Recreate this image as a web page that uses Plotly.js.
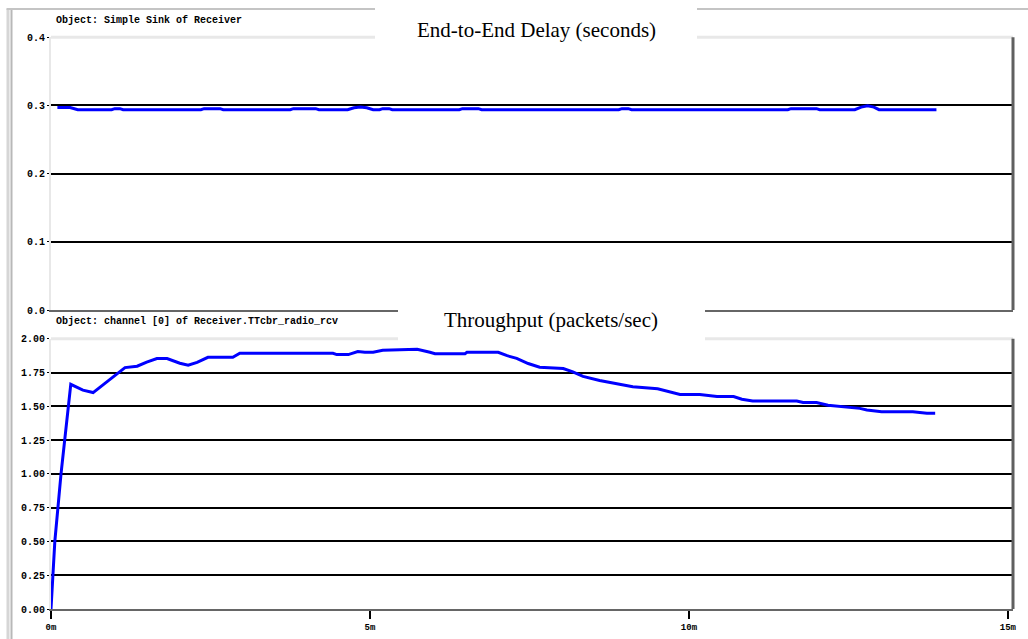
<!DOCTYPE html>
<html>
<head>
<meta charset="utf-8">
<script src="https://cdn.plot.ly/plotly-3.0.1.min.js"></script>
<style>
html,body{margin:0;padding:0;background:#fff;}
#chart{width:1028px;height:639px;}
</style>
</head>
<body>
<div id="chart"></div>
<script>
// ---- data (time in minutes) ----
var delayTime = [0.1, 0.3, 0.42, 0.95, 1.0, 1.08, 1.13, 2.35, 2.4, 2.65, 2.7, 3.75, 3.8, 4.15, 4.2, 4.65, 4.75, 4.85, 4.95, 5.05, 5.15, 5.2, 5.3, 5.35, 6.4, 6.45, 6.7, 6.75, 8.9, 8.95, 9.05, 9.1, 11.55, 11.6, 12.0, 12.05, 12.6, 12.7, 12.8, 12.9, 12.98, 13.88];
var delayValue = [0.297, 0.297, 0.2937, 0.2937, 0.2952, 0.2952, 0.2937, 0.2937, 0.2952, 0.2952, 0.2937, 0.2937, 0.2952, 0.2952, 0.2937, 0.2937, 0.2965, 0.2975, 0.2965, 0.2937, 0.2937, 0.2952, 0.2952, 0.2937, 0.2937, 0.2952, 0.2952, 0.2937, 0.2937, 0.2952, 0.2952, 0.2937, 0.2937, 0.2952, 0.2952, 0.2937, 0.2937, 0.2975, 0.2995, 0.2975, 0.2937, 0.2937];

var thrTime = [0, 0.06, 0.157, 0.28, 0.31, 0.5, 0.66, 0.9, 1.16, 1.35, 1.5, 1.66, 1.82, 2.02, 2.15, 2.29, 2.46, 2.85, 2.96, 4.42, 4.48, 4.66, 4.81, 4.92, 5.05, 5.2, 5.74, 5.94, 6.02, 6.49, 6.52, 7.01, 7.15, 7.30, 7.48, 7.66, 8.03, 8.18, 8.34, 8.6, 8.87, 9.12, 9.51, 9.66, 9.86, 10.17, 10.44, 10.7, 10.83, 11.0, 11.69, 11.79, 12.0, 12.18, 12.37, 12.68, 12.79, 13.02, 13.51, 13.73, 13.86];
var thrValue = [0, 0.5, 1.0, 1.5, 1.663, 1.62, 1.602, 1.69, 1.787, 1.797, 1.828, 1.854, 1.854, 1.819, 1.804, 1.826, 1.863, 1.863, 1.893, 1.893, 1.883, 1.883, 1.905, 1.90, 1.90, 1.915, 1.922, 1.90, 1.89, 1.89, 1.90, 1.90, 1.875, 1.855, 1.817, 1.79, 1.78, 1.755, 1.722, 1.692, 1.665, 1.645, 1.63, 1.612, 1.588, 1.588, 1.573, 1.573, 1.553, 1.54, 1.54, 1.528, 1.528, 1.508, 1.498, 1.485, 1.473, 1.46, 1.46, 1.449, 1.449];

var xTickVals = [0, 5, 10, 15];
var xTickText = ['0m', '5m', '10m', '15m'];
var delayTickVals = [0, 0.1, 0.2, 0.3, 0.4];
var delayTickText = ['0.0', '0.1', '0.2', '0.3', '0.4'];
var thrTickVals = [0, 0.25, 0.5, 0.75, 1.0, 1.25, 1.5, 1.75, 2.0];
var thrTickText = ['0.00', '0.25', '0.50', '0.75', '1.00', '1.25', '1.50', '1.75', '2.00'];

var topTitle = 'End-to-End Delay (seconds)';
var bottomTitle = 'Throughput (packets/sec)';
var topObject = 'Object: Simple Sink of Receiver';
var bottomObject = 'Object: channel [0] of Receiver.TTcbr_radio_rcv';

// ---- geometry helpers (pixel -> paper) ----
var W = 1028, H = 639;
function px(x) { return x / W; }
function py(y) { return 1 - y / H; }

var tickFont = {family: 'Liberation Mono, DejaVu Sans Mono, monospace', size: 10, color: '#000', weight: 'bold'};
var xFont = {family: 'Liberation Mono, DejaVu Sans Mono, monospace', size: 9, color: '#000', weight: 'bold'};
var titleFont = {family: 'Liberation Serif, Times New Roman, serif', size: 21, color: '#000'};

var traces = [
  {x: delayTime, y: delayValue, xaxis: 'x2', yaxis: 'y2', type: 'scatter', mode: 'lines',
   line: {color: '#0000ff', width: 3}, hoverinfo: 'skip'},
  {x: thrTime, y: thrValue, xaxis: 'x', yaxis: 'y', type: 'scatter', mode: 'lines',
   line: {color: '#0000ff', width: 3}, hoverinfo: 'skip'}
];

var xDomain = [px(51), px(1013)];
var xRange = [0, 15.08];
var topDomain = [py(310), py(37.2)];
var botDomain = [py(609), py(338.8)];

var layout = {
  width: W, height: H,
  margin: {l: 0, r: 0, t: 0, b: 0},
  paper_bgcolor: '#fff', plot_bgcolor: '#fff',
  showlegend: false,
  xaxis: {domain: xDomain, range: xRange, anchor: 'y', tickmode: 'array', tickvals: xTickVals, ticktext: xTickText,
          ticks: 'outside', ticklen: 8, tickwidth: 2, tickcolor: '#000', tickfont: xFont,
          showline: true, linecolor: '#666', linewidth: 2, showgrid: false, zeroline: false, fixedrange: true},
  xaxis2: {domain: xDomain, range: xRange, anchor: 'y2', showticklabels: false, ticks: '',
           showline: true, linecolor: '#666', linewidth: 2, showgrid: false, zeroline: false, fixedrange: true},
  yaxis: {domain: botDomain, range: [0, 2], anchor: 'x', tickmode: 'array', tickvals: thrTickVals, ticktext: thrTickText,
          tickfont: tickFont, ticks: 'outside', ticklen: 2, tickcolor: '#000', tickwidth: 1,
          showgrid: true, gridcolor: '#000', gridwidth: 2,
          showline: true, linecolor: '#e8e8e8', linewidth: 2, zeroline: false, fixedrange: true},
  yaxis2: {domain: topDomain, range: [0, 0.4], anchor: 'x2', tickmode: 'array', tickvals: delayTickVals, ticktext: delayTickText,
           tickfont: tickFont, ticks: 'outside', ticklen: 2, tickcolor: '#000', tickwidth: 1,
           showgrid: true, gridcolor: '#000', gridwidth: 2,
           showline: true, linecolor: '#e8e8e8', linewidth: 2, zeroline: false, fixedrange: true},
  shapes: [
    // outer frame
    {type: 'rect', xref: 'paper', yref: 'paper', x0: px(6.5), x1: px(9.5), y0: 0, y1: py(9), fillcolor: '#d6d6d6', line: {width: 0}, layer: 'above'},
    {type: 'line', xref: 'paper', yref: 'paper', x0: px(11.5), x1: px(11.5), y0: 0, y1: py(9), line: {color: '#b8b8b8', width: 2}, layer: 'above'},
    {type: 'line', xref: 'paper', yref: 'paper', x0: px(6.5), x1: 1, y0: py(9), y1: py(9), line: {color: '#c4c4c4', width: 2}, layer: 'above'},
    // top panel frame (covers the grid line at the upper edge)
    {type: 'line', xref: 'x2 domain', yref: 'y2 domain', x0: 0, x1: 1, y0: 1, y1: 1, line: {color: '#e8e8e8', width: 3}, layer: 'above'},
    {type: 'line', xref: 'x2 domain', yref: 'y2 domain', x0: 1, x1: 1, y0: 0, y1: 1, line: {color: '#606060', width: 3}, layer: 'above'},
    // bottom panel frame
    {type: 'line', xref: 'x domain', yref: 'y domain', x0: 0, x1: 1, y0: 1, y1: 1, line: {color: '#e8e8e8', width: 3}, layer: 'above'},
    {type: 'line', xref: 'x domain', yref: 'y domain', x0: 1, x1: 1, y0: 0, y1: 1, line: {color: '#606060', width: 3}, layer: 'above'},
    // title boxes
    {type: 'rect', xref: 'paper', yref: 'paper', x0: px(375), x1: px(697), y0: py(39.5), y1: 1, fillcolor: '#fff', line: {width: 0}, layer: 'above'},
    {type: 'rect', xref: 'paper', yref: 'paper', x0: px(398), x1: px(705), y0: py(341), y1: py(308.5), fillcolor: '#fff', line: {width: 0}, layer: 'above'}
  ],
  annotations: [
    {xref: 'paper', yref: 'paper', x: px(536), y: py(30), text: topTitle, showarrow: false, xanchor: 'center', yanchor: 'middle', font: titleFont},
    {xref: 'paper', yref: 'paper', x: px(551), y: py(320), text: bottomTitle, showarrow: false, xanchor: 'center', yanchor: 'middle', font: titleFont},
    {xref: 'paper', yref: 'paper', x: px(54), y: py(20.5), text: topObject, showarrow: false, xanchor: 'left', yanchor: 'middle', font: tickFont},
    {xref: 'paper', yref: 'paper', x: px(54), y: py(322), text: bottomObject, showarrow: false, xanchor: 'left', yanchor: 'middle', font: tickFont}
  ]
};

Plotly.newPlot('chart', traces, layout, {staticPlot: true, displayModeBar: false});
</script>
</body>
</html>
